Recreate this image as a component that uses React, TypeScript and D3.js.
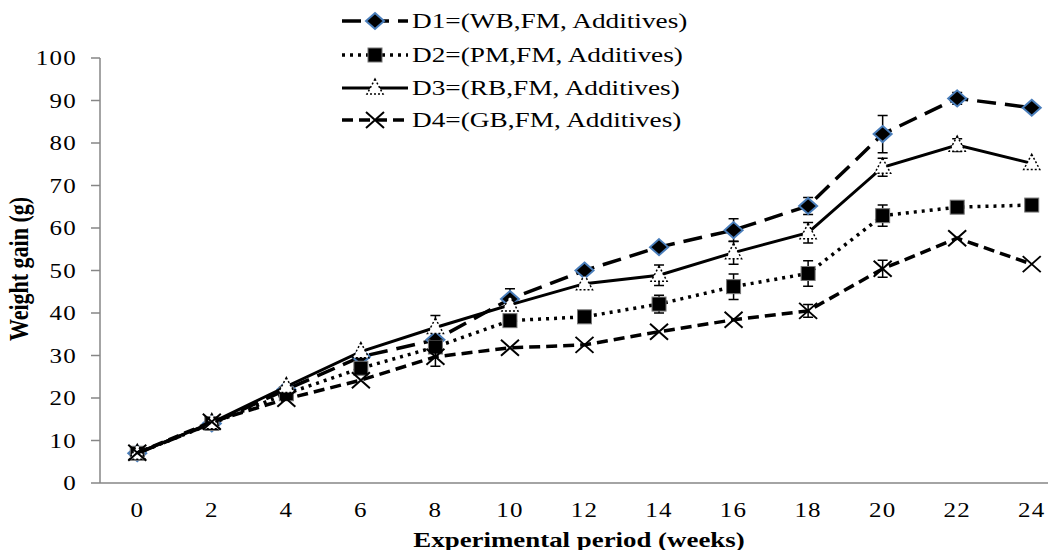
import { useEffect, useRef } from 'react';
import * as d3 from 'd3';

const weeks = ['0', '2', '4', '6', '8', '10', '12', '14', '16', '18', '20', '22', '24'];
const yTicks = [0, 10, 20, 30, 40, 50, 60, 70, 80, 90, 100];

const d1 = [7, 14, 22, 29.7, 33.7, 43.3, 50, 55.5, 59.5, 65.2, 82.1, 90.5, 88.3];
const d2 = [7, 14, 21, 27, 32, 38.2, 39.1, 42.1, 46.2, 49.3, 62.9, 64.9, 65.4];
const d3v = [7, 14.2, 22.7, 30.9, 36.6, 41.9, 46.9, 48.9, 54.2, 58.9, 74.3, 79.5, 75.2];
const d4 = [7.1, 14.4, 19.8, 24.2, 29.7, 31.8, 32.5, 35.6, 38.4, 40.5, 50.4, 57.6, 51.5];

// +/- error values, 0 = no bar
const e1 = [0, 0, 0, 0, 0, 2.4, 0, 0, 2.7, 2, 4.4, 1.4, 0];
const e2 = [0, 0, 0, 0, 0, 0, 0, 2.1, 3, 3, 2.5, 0, 0];
const e3 = [0, 0, 0, 0, 2.8, 0, 0, 2.4, 2.7, 2.4, 2.1, 1.5, 0];
const e4 = [0, 0, 0, 0, 2.2, 0, 0, 0, 0, 1.5, 2, 0, 0];

const seriesNames = [
  'D1=(WB,FM, Additives)',
  'D2=(PM,FM, Additives)',
  'D3=(RB,FM, Additives)',
  'D4=(GB,FM, Additives)',
];

const FONT = "'Liberation Serif', 'Times New Roman', serif";
const SX = 1.25;

export default function App() {
  const ref = useRef<SVGSVGElement | null>(null);

  useEffect(() => {
    if (!ref.current) return;
    const svg = d3.select(ref.current);
    svg.selectAll('*').remove();

    const x = d3.scaleBand().domain(weeks).range([100, 1069]);
    const cx = (w: string) => (x(w) as number) + x.bandwidth() / 2;
    const y = d3.scaleLinear().domain([0, 100]).range([483, 58]);

    const addText = (g: any, tx: number, ty: number, str: string, opts: any = {}) =>
      g.append('text')
        .attr('transform', `translate(${tx},${ty}) scale(${opts.sx ?? SX},1)`)
        .attr('font-family', FONT)
        .attr('font-size', opts.size ?? 20)
        .attr('font-weight', opts.bold ? 'bold' : 'normal')
        .attr('text-anchor', opts.anchor ?? 'start')
        .attr('letter-spacing', opts.ls ?? 0)
        .attr('fill', '#000')
        .text(str);

    const axisColor = '#868686';

    // y axis
    svg.append('line')
      .attr('x1', 100).attr('x2', 100)
      .attr('y1', y(100)).attr('y2', y(0))
      .attr('stroke', axisColor).attr('stroke-width', 1.5);
    yTicks.forEach(t => {
      svg.append('line')
        .attr('x1', 91).attr('x2', 100)
        .attr('y1', y(t)).attr('y2', y(t))
        .attr('stroke', axisColor).attr('stroke-width', 1.5);
      addText(svg, 77, y(t) + 7, String(t), { anchor: 'end', size: 20, ls: 1 });
    });

    // x axis
    svg.append('line')
      .attr('x1', 100).attr('x2', 1069)
      .attr('y1', y(0)).attr('y2', y(0))
      .attr('stroke', axisColor).attr('stroke-width', 1.5);
    weeks.forEach(w => {
      addText(svg, cx(w), 517, w, { anchor: 'middle', size: 20, ls: 1 });
    });

    // axis titles
    addText(svg, 579, 547, 'Experimental period (weeks)', { anchor: 'middle', size: 21, bold: true, sx: 1.28 });
    svg.append('text')
      .attr('transform', 'translate(28,269) rotate(-90) scale(1,1.25)')
      .attr('font-family', FONT)
      .attr('font-size', 22)
      .attr('font-weight', 'bold')
      .attr('text-anchor', 'middle')
      .text('Weight gain (g)');

    // marker drawers
    const diamond = (g: any, px: number, py: number) =>
      g.append('path')
        .attr('d', `M${px},${py - 8}L${px + 9},${py}L${px},${py + 8}L${px - 9},${py}Z`)
        .attr('fill', '#000').attr('stroke', '#4a7ebb').attr('stroke-width', 2);
    const square = (g: any, px: number, py: number) =>
      g.append('rect')
        .attr('x', px - 7).attr('y', py - 7).attr('width', 14).attr('height', 14)
        .attr('fill', '#000').attr('stroke', '#777').attr('stroke-width', 1);
    const triangle = (g: any, px: number, py: number) =>
      g.append('path')
        .attr('d', `M${px},${py - 9}L${px + 8},${py + 6}L${px - 8},${py + 6}Z`)
        .attr('fill', '#fff').attr('stroke', '#000').attr('stroke-width', 1.5)
        .attr('stroke-dasharray', '2,2');
    const cross = (g: any, px: number, py: number) =>
      g.append('path')
        .attr('d', `M${px - 9},${py - 8}L${px + 9},${py + 8}M${px - 9},${py + 8}L${px + 9},${py - 8}`)
        .attr('fill', 'none').attr('stroke', '#000').attr('stroke-width', 2);

    const series = [
      { vals: d1, err: e1, dash: '19,9', width: 3.5, marker: diamond },
      { vals: d2, err: e2, dash: '3,5', width: 3.5, marker: square },
      { vals: d3v, err: e3, dash: null, width: 3, marker: triangle },
      { vals: d4, err: e4, dash: '11,6', width: 3.5, marker: cross },
    ];

    const line = d3.line<number>()
      .x((_, i) => cx(weeks[i]))
      .y(v => y(v));

    series.forEach(s => {
      const g = svg.append('g');
      g.append('path')
        .datum(s.vals)
        .attr('fill', 'none')
        .attr('stroke', '#000')
        .attr('stroke-width', s.width)
        .attr('stroke-dasharray', s.dash)
        .attr('d', line);
      s.vals.forEach((v, i) => {
        const e = s.err[i];
        if (e > 0) {
          const px = cx(weeks[i]);
          g.append('path')
            .attr('d', `M${px},${y(v + e)}V${y(v - e)}M${px - 5},${y(v + e)}H${px + 5}M${px - 5},${y(v - e)}H${px + 5}`)
            .attr('stroke', '#000').attr('stroke-width', 1.5).attr('fill', 'none');
        }
      });
      s.vals.forEach((v, i) => s.marker(g, cx(weeks[i]), y(v)));
    });

    // legend
    const rowY = [21, 55, 88, 120];
    series.forEach((s, i) => {
      const g = svg.append('g');
      g.append('line')
        .attr('x1', 342).attr('x2', 408)
        .attr('y1', rowY[i]).attr('y2', rowY[i])
        .attr('stroke', '#000')
        .attr('stroke-width', s.width)
        .attr('stroke-dasharray', s.dash);
      s.marker(g, 375, rowY[i]);
      addText(g, 412, rowY[i] + 7, seriesNames[i], { size: 21, sx: 1.3 });
    });
  }, []);

  return (
    <svg
      ref={ref}
      width={1048}
      height={550}
      style={{ position: 'absolute', left: 0, top: 0, background: '#fff' }}
    />
  );
}
